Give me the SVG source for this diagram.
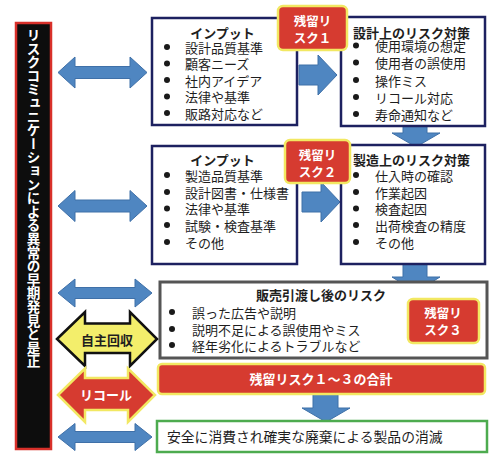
<svg xmlns="http://www.w3.org/2000/svg" width="500" height="471" viewBox="0 0 500 471">
<style>
text{font-family:"Noto Sans CJK JP","Noto Sans",sans-serif;dominant-baseline:central;fill:#1e1e1e}
.t{font-size:13px}
.b{font-weight:bold}
.w{fill:#fff;font-weight:bold}
.box{fill:#fff;stroke:#1d2160;stroke-width:2.5}
.rr{fill:#d63b30;stroke:#f2e862;stroke-width:2.5}
.blue{fill:#4f86c1;stroke:#3f70a8;stroke-width:1}
.dot{fill:#1a1a1a}
</style>
<rect width="500" height="471" fill="#fff"/>

<g id="connectors">
  <path class="blue" d="M58,72.5 L75,57 L75,66.5 L130,66.5 L130,57 L147,72.5 L130,88 L130,78.5 L75,78.5 L75,88 Z"/>
  <path class="blue" d="M58,206 L75,190.5 L75,200 L130,200 L130,190.5 L147,206 L130,221.5 L130,212 L75,212 L75,221.5 Z"/>
  <path class="blue" d="M58,293 L75,279 L75,287.5 L135,287.5 L135,279 L152,293 L135,307 L135,298.5 L75,298.5 L75,307 Z"/>
  <path class="blue" d="M58,437 L75,423.5 L75,431.5 L135,431.5 L135,423.5 L152,437 L135,450.5 L135,442.5 L75,442.5 L75,450.5 Z"/>
  <path class="blue" d="M299,65 L318,65 L318,55 L337,75 L318,95 L318,85 L299,85 Z"/>
  <path class="blue" d="M302,192 L321,192 L321,182 L340,202 L321,222 L321,212 L302,212 Z"/>
  <path class="blue" d="M403,124 L427,124 L427,133 L440,133 L416,147 L392,133 L403,133 Z"/>
  <path class="blue" d="M403,263 L427,263 L427,277 L440,277 L416,292 L392,277 L403,277 Z"/>
  <path class="blue" d="M313,393 L338,393 L338,408 L350,408 L326,422 L302,408 L313,408 Z"/>
</g>

<g id="bar">
  <rect x="16" y="23" width="35" height="426" fill="#0d0d0d" stroke="#d8302a" stroke-width="2.5"/>
  <text x="33.5" y="28" class="w" style="font-size:13.6px;writing-mode:vertical-rl;text-orientation:upright">リスクコミュニケーションによる異常の早期発見と是正</text>
</g>

<g id="input1">
  <rect class="box" x="152" y="18" width="145" height="107"/>
  <text class="t b" x="222.5" y="32" text-anchor="middle">インプット</text>
  <circle class="dot" cx="167" cy="47" r="3"/><text class="t" x="185" y="47">設計品質基準</text>
  <circle class="dot" cx="167" cy="63.5" r="3"/><text class="t" x="185" y="63.5">顧客ニーズ</text>
  <circle class="dot" cx="167" cy="80" r="3"/><text class="t" x="185" y="80">社内アイデア</text>
  <circle class="dot" cx="167" cy="96.5" r="3"/><text class="t" x="185" y="96.5">法律や基準</text>
  <circle class="dot" cx="167" cy="113" r="3"/><text class="t" x="185" y="113">販路対応など</text>
</g>

<g id="design">
  <rect class="box" x="341" y="17" width="144" height="109"/>
  <text class="t b" x="353" y="32">設計上のリスク対策</text>
  <circle class="dot" cx="356" cy="45.5" r="3"/><text class="t" x="375" y="45.5">使用環境の想定</text>
  <circle class="dot" cx="356" cy="62.5" r="3"/><text class="t" x="375" y="62.5">使用者の誤使用</text>
  <circle class="dot" cx="356" cy="80" r="3"/><text class="t" x="375" y="80">操作ミス</text>
  <circle class="dot" cx="356" cy="97" r="3"/><text class="t" x="375" y="97">リコール対応</text>
  <circle class="dot" cx="356" cy="114" r="3"/><text class="t" x="375" y="114">寿命通知など</text>
</g>

<g id="risk1">
  <rect class="rr" x="278" y="6" width="69" height="44" rx="5"/>
  <text class="w" x="312.5" y="20" text-anchor="middle" style="font-size:12.5px">残留リ</text>
  <text class="w" x="312.5" y="37" text-anchor="middle" style="font-size:12.5px">スク１</text>
</g>

<g id="input2">
  <rect class="box" x="152" y="146" width="145" height="118"/>
  <text class="t b" x="222.5" y="159" text-anchor="middle">インプット</text>
  <circle class="dot" cx="167" cy="175" r="3"/><text class="t" x="185" y="175">製造品質基準</text>
  <circle class="dot" cx="167" cy="192" r="3"/><text class="t" x="185" y="192">設計図書・仕様書</text>
  <circle class="dot" cx="167" cy="208.5" r="3"/><text class="t" x="185" y="208.5">法律や基準</text>
  <circle class="dot" cx="167" cy="225" r="3"/><text class="t" x="185" y="225">試験・検査基準</text>
  <circle class="dot" cx="167" cy="242" r="3"/><text class="t" x="185" y="242">その他</text>
</g>

<g id="manufacture">
  <rect class="box" x="341" y="145" width="144" height="119"/>
  <text class="t b" x="353" y="159">製造上のリスク対策</text>
  <circle class="dot" cx="356" cy="175" r="3"/><text class="t" x="375" y="175">仕入時の確認</text>
  <circle class="dot" cx="356" cy="192" r="3"/><text class="t" x="375" y="192">作業起因</text>
  <circle class="dot" cx="356" cy="208.5" r="3"/><text class="t" x="375" y="208.5">検査起因</text>
  <circle class="dot" cx="356" cy="225" r="3"/><text class="t" x="375" y="225">出荷検査の精度</text>
  <circle class="dot" cx="356" cy="242" r="3"/><text class="t" x="375" y="242">その他</text>
</g>

<g id="risk2">
  <rect class="rr" x="285" y="140" width="65" height="43" rx="5"/>
  <text class="w" x="317.5" y="154" text-anchor="middle" style="font-size:12.5px">残留リ</text>
  <text class="w" x="317.5" y="171" text-anchor="middle" style="font-size:12.5px">スク２</text>
</g>

<g id="sales">
  <rect x="160" y="282" width="327" height="76" fill="#fff" stroke="#555" stroke-width="3"/>
  <text class="t b" x="321" y="294" text-anchor="middle">販売引渡し後のリスク</text>
  <circle class="dot" cx="172" cy="312" r="3"/><text class="t" x="192" y="312">誤った広告や説明</text>
  <circle class="dot" cx="172" cy="329" r="3"/><text class="t" x="192" y="329">説明不足による誤使用やミス</text>
  <circle class="dot" cx="172" cy="345" r="3"/><text class="t" x="192" y="345">経年劣化によるトラブルなど</text>
</g>

<g id="risk3">
  <rect class="rr" x="408" y="299" width="71" height="44" rx="5"/>
  <text class="w" x="443" y="312" text-anchor="middle" style="font-size:12.5px">残留リ</text>
  <text class="w" x="443" y="329" text-anchor="middle" style="font-size:12.5px">スク３</text>
</g>

<g id="voluntary">
  <path d="M57,339 L85,312 L85,323.5 L130,323.5 L130,312 L157,339 L130,366 L130,353 L85,353 L85,366 Z" fill="#f3ee6b" stroke="#111" stroke-width="2.5" stroke-linejoin="miter"/>
  <text class="t b" x="107" y="339" text-anchor="middle">自主回収</text>
</g>

<g id="recall">
  <path d="M58,395 L85,368.5 L85,378 L128,378 L128,368.5 L155,395 L128,422 L128,410 L85,410 L85,422 Z" fill="#d63b30" stroke="#f2e862" stroke-width="2.5"/>
  <text class="w" x="106" y="394" text-anchor="middle" style="font-size:13px">リコール</text>
</g>

<g id="total">
  <rect class="rr" x="158" y="364" width="327" height="30" rx="4"/>
  <text class="w" x="321" y="378.5" text-anchor="middle" style="font-size:13px">残留リスク１～３の合計</text>
</g>

<g id="final">
  <rect x="157" y="421" width="330" height="31" fill="#fff" stroke="#4dab4f" stroke-width="2.5"/>
  <text x="167" y="436" style="font-size:13.8px">安全に消費され確実な廃棄による製品の消滅</text>
</g>
</svg>
